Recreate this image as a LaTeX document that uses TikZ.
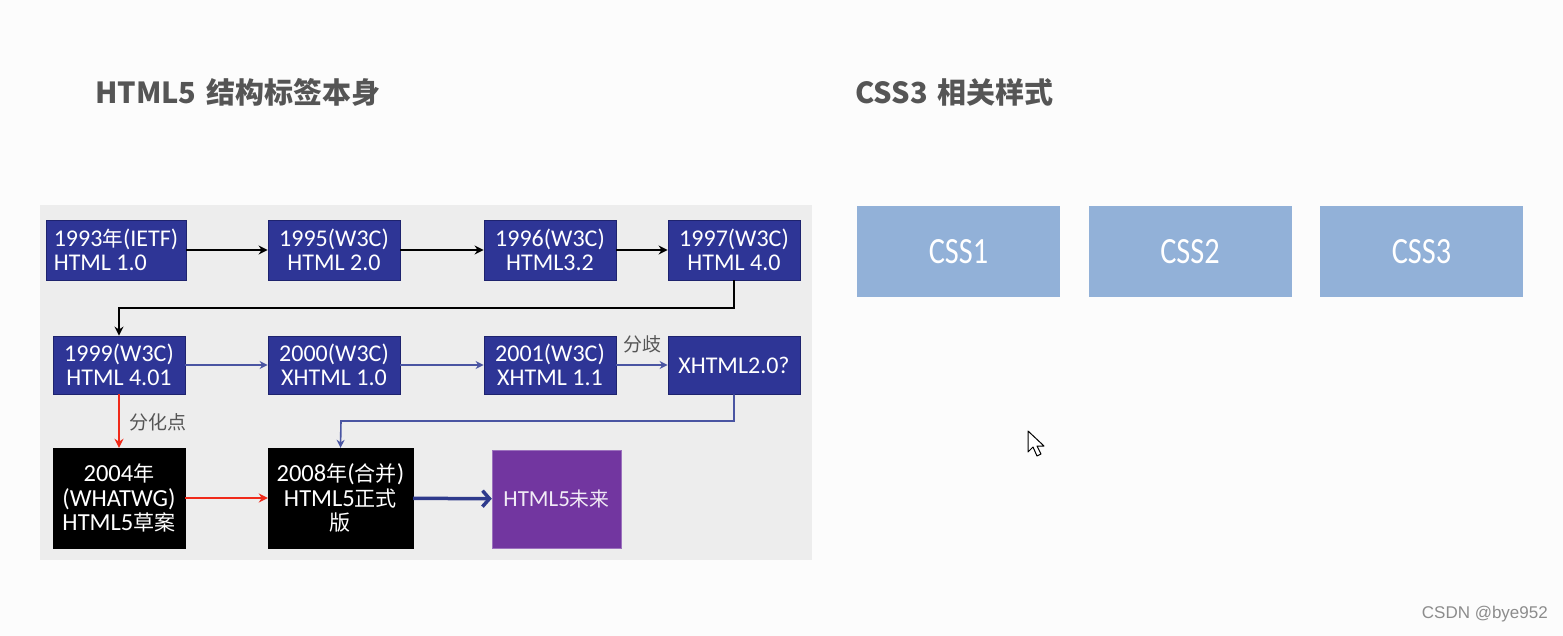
\documentclass[tikz,border=0pt]{standalone}
\usepackage{fontspec}
\setmainfont{Carlito}
\newfontfamily\cjk{Noto Sans CJK SC}
\newfontfamily\cj[Scale=0.86]{Noto Sans CJK SC}
\newfontfamily\narrow[FakeStretch=0.82]{Carlito}
\newfontfamily\wmfont{Liberation Sans}
\usetikzlibrary{arrows.meta}
\definecolor{panel}{HTML}{EDEDED}
\definecolor{boxblue}{HTML}{2E3596}
\definecolor{boxedge}{HTML}{1E236E}
\definecolor{lineblue}{HTML}{4A55A2}
\definecolor{darkblue}{HTML}{2E3A8C}
\definecolor{purp}{HTML}{7236A0}
\definecolor{cssblue}{HTML}{92B1D8}
\definecolor{titlegrey}{HTML}{555555}
\definecolor{arrred}{HTML}{F02A1A}
\tikzset{
  yearbox/.style={draw=boxedge, line width=0.8pt, fill=boxblue, text=white, align=center,
    font=\fontsize{24}{23.5}\selectfont, inner sep=2pt},
  blackbox/.style={draw=black, fill=black, text=white, align=center,
    font=\fontsize{24.5}{24.5}\selectfont, inner sep=2pt},
  purpbox/.style={draw=purp!70!white, fill=purp, text=white!90!purp, align=center,
    font=\fontsize{23}{25}\selectfont, inner sep=2pt},
  cssbox/.style={fill=cssblue, text=white, minimum width=203pt, minimum height=91pt,
    font=\narrow\fontsize{37}{40}\selectfont, inner sep=0pt},
  blackarr/.style={draw=black, line width=2pt, -{Stealth[length=9pt,width=9pt]}},
  bluearr/.style={draw=lineblue, line width=1.6pt, -{Stealth[length=8pt,width=8pt]}},
  redarr/.style={draw=arrred, line width=2pt, -{Stealth[length=9pt,width=9pt]}},
  thickblue/.style={draw=darkblue, line width=3.5pt, -{Straight Barb[length=7pt,width=16pt,line width=3.5pt]}},
  titletext/.style={text=titlegrey, font=\cjk\bfseries\fontsize{29}{32}\selectfont, anchor=base west, inner sep=0pt},
  notetext/.style={text=titlegrey, font=\cjk\fontsize{19}{22}\selectfont, inner sep=0pt},
}
\begin{document}
\begin{tikzpicture}[x=1pt,y=-1pt]
\fill[white!99!black] (0,0) rectangle (1563,636);
\useasboundingbox (0,0) rectangle (1563,636);
\fill[panel] (40,205) rectangle (812,560);

% titles
\node[titletext] (t1) at (95,104) {HTML5\hspace{0.35em}结构标签本身};
\node[titletext] (t2) at (855,104) {CSS3\hspace{0.35em}相关样式};

% row 1
\node[yearbox, minimum width=140pt, minimum height=60pt, align=left] (a1) at (116,250) {1993{\cj 年}(IETF)\\HTML 1.0};
\node[yearbox, minimum width=132pt, minimum height=60pt] (a2) at (334,250) {1995(W3C)\\HTML 2.0};
\node[yearbox, minimum width=132pt, minimum height=60pt] (a3) at (550,250) {1996(W3C)\\HTML3.2};
\node[yearbox, minimum width=132pt, minimum height=60pt] (a4) at (734,250) {1997(W3C)\\HTML 4.0};
% row 2
\node[yearbox, minimum width=132pt, minimum height=58pt] (b1) at (119,365) {1999(W3C)\\HTML 4.01};
\node[yearbox, minimum width=132pt, minimum height=58pt] (b2) at (334,365) {2000(W3C)\\XHTML 1.0};
\node[yearbox, minimum width=132pt, minimum height=58pt] (b3) at (550,365) {2001(W3C)\\XHTML 1.1};
\node[yearbox, minimum width=132pt, minimum height=58pt] (b4) at (734,365) {XHTML2.0?};
% row 3
\node[blackbox, minimum width=132pt, minimum height=100pt] (c1) at (119,498) {2004{\cj 年}\\(WHATWG)\\HTML5{\cj 草案}};
\node[blackbox, minimum width=145pt, minimum height=100pt] (c2) at (340.5,498) {2008{\cj 年}({\cj 合并})\\HTML5{\cj 正式}\\{\cj 版}};
\node[purpbox, minimum width=129pt, minimum height=98pt] (c3) at (556.5,499) {HTML5{\cj 未来}};

% junction coordinates
\coordinate (j1) at (119,308);
\coordinate (j2) at (341,421);

% connectors
\draw[blackarr] (a1) -- (a2);
\draw[blackarr] (a2) -- (a3);
\draw[blackarr] (a3) -- (a4);
\draw[blackarr] (a4.south) |- (j1) -- (b1.north);
\draw[bluearr] (b1) -- (b2);
\draw[bluearr] (b2) -- (b3);
\draw[bluearr] (b3) -- (b4);
\draw[bluearr] (b4.south) |- (j2) -- (c2.north);
\draw[redarr] (b1) -- (c1);
\draw[redarr] (c1) -- (c2);
\draw[thickblue] (c2) -- (c3);

\node[notetext] (n1) at (642,344) {分歧};
\node[notetext] (n2) at (158,422) {分化点};

% CSS boxes
\node[cssbox] (s1) at (958.5,252) {CSS1};
\node[cssbox] (s2) at (1190,252) {CSS2};
\node[cssbox] (s3) at (1421.5,252) {CSS3};

% mouse cursor
\draw[fill=white, line width=1pt, line join=round] (1028,431) -- (1028,452) -- (1033,447) -- (1037,456) -- (1041,454) -- (1037,446) -- (1044,446) -- cycle;

% watermark
\node[text=black!45, font=\wmfont\fontsize{17}{20}\selectfont, anchor=base east, inner sep=0pt] (wm) at (1548,618) {CSDN @bye952};
\end{tikzpicture}
\end{document}
